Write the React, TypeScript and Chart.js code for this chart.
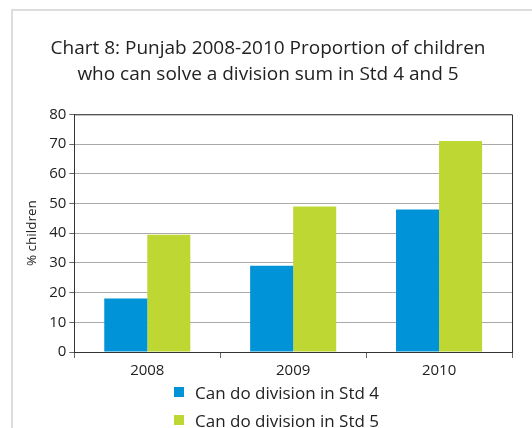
import React, { useEffect, useRef } from "react";
import { Chart, registerables } from "chart.js";

Chart.register(...registerables);

const categories = ["2008", "2009", "2010"];
const std4Values = [18, 29, 48];
const std5Values = [39.5, 49, 71];
const seriesLabels = ["Can do division in Std 4", "Can do division in Std 5"];
const seriesColors = ["#0093d8", "#bed732"];
const titleLines = [
  "Chart 8: Punjab 2008-2010 Proportion of children",
  "who can solve a division sum in Std 4 and 5",
];
const yAxisTitle = "% children";

const FONT = "'Open Sans', 'Noto Sans', sans-serif";

const borderPlugin = {
  id: "plotBorder",
  afterDraw(chart: any) {
    const { ctx, chartArea } = chart;
    ctx.save();
    ctx.strokeStyle = "#333";
    ctx.lineWidth = 1;
    ctx.beginPath();
    ctx.moveTo(chartArea.left, chartArea.top + 0.5);
    ctx.lineTo(chartArea.right + 0.5, chartArea.top + 0.5);
    ctx.lineTo(chartArea.right + 0.5, chartArea.bottom);
    ctx.stroke();
    ctx.restore();
  },
};

export default function App() {
  const ref = useRef<HTMLCanvasElement>(null);
  useEffect(() => {
    const chart = new Chart(ref.current!, {
      type: "bar",
      data: {
        labels: categories,
        datasets: [
          { label: seriesLabels[0], data: std4Values, backgroundColor: seriesColors[0] },
          { label: seriesLabels[1], data: std5Values, backgroundColor: seriesColors[1] },
        ],
      },
      options: {
        animation: false,
        responsive: false,
        devicePixelRatio: 1,
        layout: { padding: { left: 24, right: 20, top: 36, bottom: 44 } },
        datasets: { bar: { categoryPercentage: 0.59, barPercentage: 1 } },
        plugins: {
          title: {
            display: true,
            text: titleLines,
            color: "#222",
            font: { family: FONT, size: 19, weight: "normal", lineHeight: 1.35 },
            padding: { top: 0, bottom: 27 },
          },
          legend: { display: false },
          tooltip: { enabled: false },
        },
        scales: {
          x: {
            grid: { display: true, drawOnChartArea: false, drawTicks: true, tickLength: 6, color: "#666", offset: true },
            border: { color: "#333" },
            ticks: { color: "#222", font: { family: FONT, size: 15 }, padding: 4 },
          },
          y: {
            min: 0,
            max: 80,
            ticks: { stepSize: 10, color: "#222", font: { family: FONT, size: 15 }, padding: 3 },
            grid: { color: "#aaa", tickLength: 5, tickColor: "#666" },
            border: { color: "#333" },
            title: {
              display: true,
              text: yAxisTitle,
              color: "#222",
              font: { family: FONT, size: 13.5 },
              padding: { top: 0, bottom: 6 },
            },
          },
        },
      },
      plugins: [borderPlugin],
    });
    return () => chart.destroy();
  }, []);
  return (
    <div style={{ position: "absolute", left: 0, top: 0, width: 532, height: 428, background: "#fff", overflow: "hidden" }}>
      <div
        style={{
          position: "absolute",
          left: 11,
          top: 9,
          width: 600,
          height: 600,
          borderTop: "2px solid #ddd",
          borderLeft: "2px solid #ddd",
        }}
      />
      <canvas ref={ref} width={532} height={428} style={{ position: "absolute", left: 0, top: 0 }} />
      {seriesLabels.map((label, i) => (
        <div
          key={label}
          style={{
            position: "absolute",
            left: 174,
            top: 380 + i * 28,
            height: 24,
            display: "flex",
            alignItems: "center",
            fontFamily: FONT,
            fontSize: 17,
            color: "#222",
            whiteSpace: "nowrap",
          }}
        >
          <span style={{ display: "inline-block", width: 10, height: 10, background: seriesColors[i], marginRight: 11 }} />
          {label}
        </div>
      ))}
    </div>
  );
}
